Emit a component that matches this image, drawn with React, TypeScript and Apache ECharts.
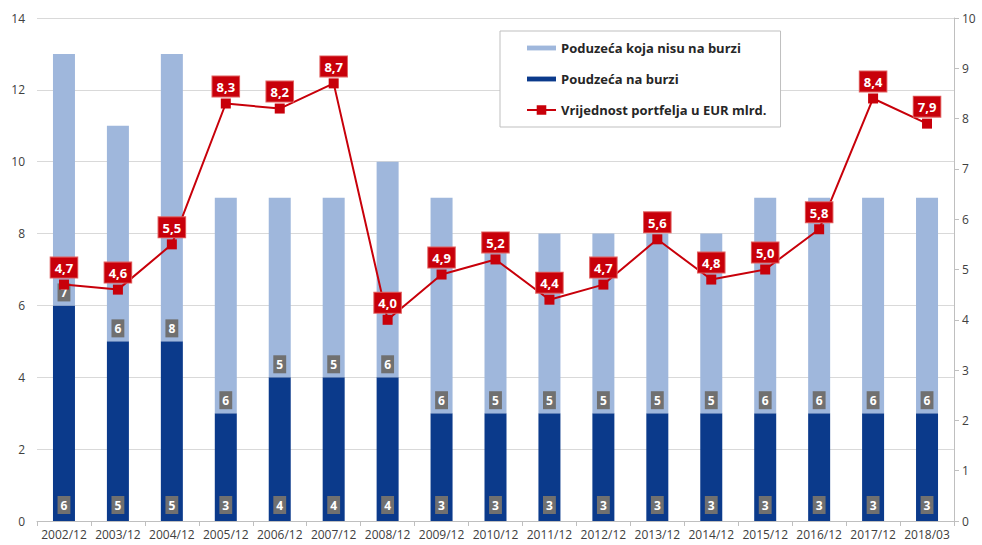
import React, { useEffect, useRef } from "react";
import * as echarts from "echarts";

const categories = [
  "2002/12", "2003/12", "2004/12", "2005/12", "2006/12", "2007/12", "2008/12", "2009/12",
  "2010/12", "2011/12", "2012/12", "2013/12", "2014/12", "2015/12", "2016/12", "2017/12", "2018/03",
];
const listed = [6, 5, 5, 3, 4, 4, 4, 3, 3, 3, 3, 3, 3, 3, 3, 3, 3];
const unlisted = [7, 6, 8, 6, 5, 5, 6, 6, 5, 5, 5, 5, 5, 6, 6, 6, 6];
const portfolio = [4.7, 4.6, 5.5, 8.3, 8.2, 8.7, 4.0, 4.9, 5.2, 4.4, 4.7, 5.6, 4.8, 5.0, 5.8, 8.4, 7.9];

const NAME_UNLISTED = "Poduzeća koja nisu na burzi";
const NAME_LISTED = "Poudzeća na burzi";
const NAME_LINE = "Vrijednost portfelja u EUR mlrd.";

const FONT = "'Open Sans', 'Noto Sans', sans-serif";

export default function App() {
  const ref = useRef<HTMLDivElement>(null);
  useEffect(() => {
    if (!ref.current) return;
    const chart = echarts.init(ref.current, null, { renderer: "svg" });
    const greyLabel = {
      show: true,
      color: "#ffffff",
      fontWeight: "bold" as const,
      fontSize: 12,
      fontFamily: FONT,
      backgroundColor: "#707070",
      padding: [2, 3, 1, 3],
      lineHeight: 15,
    };
    chart.setOption({
      animation: false,
      textStyle: { fontFamily: FONT },
      grid: { left: 37, right: 28, top: 18, bottom: 24, containLabel: false },
      legend: {
        orient: "vertical",
        left: 500,
        top: 31,
        padding: [9, 14, 9, 26],
        itemGap: 15,
        itemWidth: 29,
        itemHeight: 12,
        backgroundColor: "#ffffff",
        borderColor: "#bfbfbf",
        borderWidth: 1,
        borderRadius: 0,
        textStyle: { fontSize: 13, fontWeight: "bold", color: "#262626", fontFamily: FONT, lineHeight: 16 },
        data: [
          { name: NAME_UNLISTED, icon: "path://M0,0 L30,0 L30,5 L0,5 Z" },
          { name: NAME_LISTED, icon: "path://M0,0 L30,0 L30,5 L0,5 Z" },
          { name: NAME_LINE },
        ],
      },
      xAxis: {
        type: "category",
        data: categories,
        axisLine: { lineStyle: { color: "#bfbfbf" } },
        axisTick: { show: true, alignWithLabel: false, length: 5, lineStyle: { color: "#bfbfbf" } },
        axisLabel: { color: "#404040", fontSize: 12, margin: 7, interval: 0 },
      },
      yAxis: [
        {
          type: "value",
          min: 0,
          max: 14,
          interval: 2,
          axisLine: { show: false },
          axisTick: { show: false },
          axisLabel: { color: "#404040", fontSize: 12, margin: 12 },
          splitLine: { lineStyle: { color: "#d9d9d9" } },
        },
        {
          type: "value",
          min: 0,
          max: 10,
          interval: 1,
          position: "right",
          axisLine: { show: true, lineStyle: { color: "#bfbfbf" } },
          axisTick: { show: true, length: 5, lineStyle: { color: "#bfbfbf" } },
          axisLabel: { color: "#404040", fontSize: 12, margin: 8 },
          splitLine: { show: false },
        },
      ],
      series: [
        {
          name: NAME_LISTED,
          type: "bar",
          stack: "total",
          data: listed,
          barWidth: 22,
          itemStyle: { color: "#0b3a8b" },
          label: { ...greyLabel, position: "insideBottom", distance: 7 },
        },
        {
          name: NAME_UNLISTED,
          type: "bar",
          stack: "total",
          data: unlisted,
          barWidth: 22,
          itemStyle: { color: "#9fb7dc" },
          label: { ...greyLabel, position: "insideBottom", distance: 4 },
        },
        {
          name: NAME_LINE,
          type: "line",
          yAxisIndex: 1,
          data: portfolio,
          symbol: "rect",
          symbolSize: 10,
          lineStyle: { color: "#c8000a", width: 2 },
          itemStyle: { color: "#c8000a" },
          label: {
            show: true,
            position: "top",
            distance: 2,
            color: "#ffffff",
            fontSize: 13,
            fontWeight: "bold",
            fontFamily: FONT,
            backgroundColor: "#c8000a",
            borderColor: "#e06060",
            borderWidth: 1,
            padding: [4, 4, 3, 4],
            formatter: (p: any) => String(p.value.toFixed(1)).replace(".", ","),
          },
          z: 5,
        },
      ],
    });
    return () => chart.dispose();
  }, []);
  return <div ref={ref} style={{ width: 982, height: 545, position: "absolute", left: 0, top: 0 }} />;
}
